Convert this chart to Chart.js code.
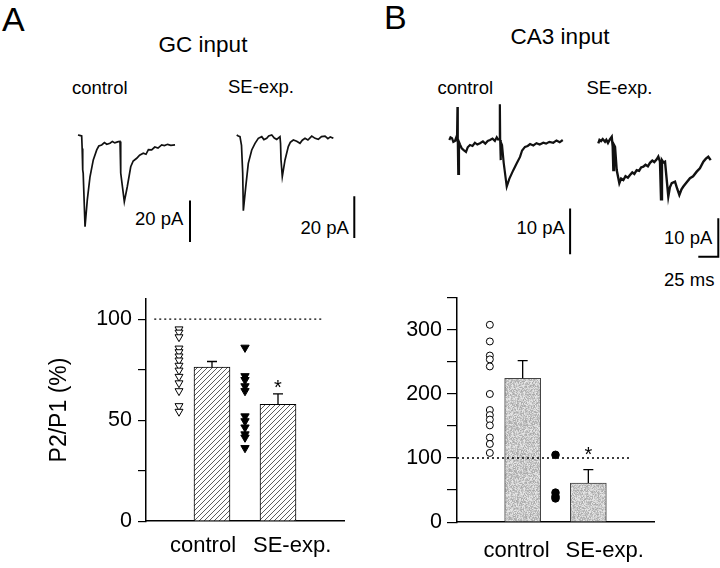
<!DOCTYPE html>
<html>
<head>
<meta charset="utf-8">
<script src="https://cdn.jsdelivr.net/npm/chart.js@4.4.0/dist/chart.umd.min.js"></script>
<style>
body { margin: 0; background: #fff; }
#fig { position: relative; width: 720px; height: 568px; overflow: hidden;
       font-family: "Liberation Sans", Arial, sans-serif; color: #000; }
.box { position: absolute; }
.t { position: absolute; white-space: nowrap; line-height: 1; }
.big { font-size: 34px; }
.head { font-size: 22.5px; text-align: center; width: 200px; }
.sm { font-size: 18.5px; }
.grp { font-size: 22px; }
</style>
</head>
<body>
<div id="fig">

  <div class="t big" style="left:2px;top:2px">A</div>
  <div class="t big" style="left:384px;top:0px">B</div>
  <div class="t head" style="left:103px;top:34px">GC input</div>
  <div class="t head" style="left:460px;top:26px">CA3 input</div>

  <div class="t sm" style="left:72px;top:78.6px">control</div>
  <div class="t sm" style="left:228px;top:78.3px">SE-exp.</div>
  <div class="t sm" style="left:437.5px;top:78.6px">control</div>
  <div class="t sm" style="left:586.5px;top:79.3px">SE-exp.</div>

  <div class="t sm" style="left:135px;top:210px">20 pA</div>
  <div class="t sm" style="left:300.5px;top:219.3px">20 pA</div>
  <div class="t sm" style="left:516.5px;top:219.3px">10 pA</div>
  <div class="t sm" style="left:664px;top:229.3px">10 pA</div>
  <div class="t sm" style="left:664px;top:271px">25 ms</div>

  <div class="box" style="left:70px;top:118px;width:130px;height:130px"><canvas id="gcCtrl"></canvas></div>
  <div class="box" style="left:226px;top:118px;width:134px;height:130px"><canvas id="gcSe"></canvas></div>
  <div class="box" style="left:440px;top:95px;width:140px;height:170px"><canvas id="caCtrl"></canvas></div>
  <div class="box" style="left:590px;top:115px;width:130px;height:150px"><canvas id="caSe"></canvas></div>

  <div class="box" style="left:0px;top:280px;width:360px;height:260px"><canvas id="gcBars"></canvas></div>
  <div class="box" style="left:380px;top:280px;width:340px;height:260px"><canvas id="caBars"></canvas></div>

  <div class="t grp" style="left:170px;top:533.9px" id="gcLab0"></div>
  <div class="t grp" style="left:253px;top:533.9px" id="gcLab1"></div>
  <div class="t grp" style="left:483.5px;top:538.9px" id="caLab0"></div>
  <div class="t grp" style="left:565.5px;top:538.9px" id="caLab1"></div>

</div>

<script>

// ---- example traces (time in ms, current in pA, baseline = 0) ----

const gcCtrlT = [0, 2, 4.6, 5.2, 5.9, 6.5, 8.8, 11.6, 15, 19.1, 23.4, 26, 29.6, 33, 36, 40, 43, 46, 50.4, 52.5,
                 53.2, 53.6, 57.9, 61.6, 65.9, 69, 73.4, 77, 81.6, 85, 88, 92.1, 96, 100, 104.6, 108, 112, 116, 121.3];
const gcCtrlI = [0.5, 0.3, 0, -6, -16.3, -18, -43.6, -30.8, -19.6, -11.5, -6.7, -4.8, -4.3, -3.2, -4, -3.5, -2.6, -3.3, -2.7, -2.6,
                 -13, -17.8, -31.6, -24.4, -14.8, -12, -10.7, -9.2, -8.3, -8.8, -6.6, -6.7, -5.3, -5.8, -4.3, -4.6, -4, -4.5, -4.3];

const gcSeT = [0, 2, 4.1, 6, 7.5, 8.3, 11.3, 14.5, 18.8, 22.9, 27, 31.3, 34, 37.5, 40, 43.8, 47, 50, 54.1, 54.8,
               55.4, 57, 60.4, 64.5, 67, 70.8, 75, 79.1, 82, 85.4, 89, 93.8, 98, 102, 106, 110.4, 114, 117, 120.8];
const gcSeI = [0, -0.5, -0.8, -5, -18.3, -36.4, -24.9, -13.6, -7.2, -4, -1.6, -0.8, -2.2, -1.6, -0.5, 0, -1.5, -2.1, -0.8, -4,
               -12, -20, -12, -5.6, -3.5, -2.4, -3, -4, -2.5, -1.6, -2.4, -0.5, -1.6, -2.1, -0.8, -0.5, -1.8, -0.9, -1.6];

const caCtrlT = [0, 1.5, 3.4, 5, 7.1, 8.5, 9.6, 10.2, 10.6, 11.2, 12.1, 13.5, 15.5, 18, 20.9, 23, 25.9, 29, 32, 35,
                 38.4, 42, 45, 48, 50.9, 54, 57, 59.3, 61, 62.7, 63.2, 63.6, 64, 64.6, 65.9, 68, 71.8, 75, 80, 84,
                 88.4, 91, 94.6, 98, 101, 105, 109, 113, 117.5, 121, 125, 130, 134, 138, 141.8];
const caCtrlI = [0, 0.6, 0.4, -0.4, -0.2, 0.5, 0, 7.2, 0, -7.4, -0.4, -1, -1.8, -2.2, -2.6, -1.6, -1.1, -1.3, -0.6, -1.0,
                 -0.7, -0.3, -0.8, -0.2, 0, 0.3, -0.2, 0.6, 0.1, 0.2, 7.8, 0, -4.4, -0.4, -1.1, -5, -10.2, -8.5, -6.6, -5.2,
                 -3.7, -2.3, -1.5, -1.3, -0.9, -1.2, -0.7, -1.0, -0.6, -0.8, -0.4, -0.6, -0.1, -0.5, 0];

const caSeT = [0, 1.5, 3.4, 5.5, 8.4, 10, 12.1, 14.5, 16.8, 18, 18.8, 19.6, 20.9, 23, 26.3, 28.5, 31.3, 34, 37, 39.6,
               42.5, 45, 48, 51, 53.5, 56.3, 59, 62, 64.6, 67.5, 70, 73, 75, 77.1, 78.4, 79.6, 81.5, 83.4, 87.5, 89.5,
               91.8, 95.9, 98.5, 101.3, 104, 106.3, 110, 114.6, 118.5, 123, 127, 131.3, 134.5, 137.5, 140.5];
const caSeI = [0, 0.9, 0.6, 1.1, 0.4, 0.9, 0.1, 1.0, 1.7, -0.9, -7, -0.4, -0.9, -7, -10.4, -9.2, -9.6, -8.6, -9.0, -8.3,
               -7.6, -8.0, -7.0, -7.2, -6.3, -6.1, -5.6, -6.0, -5.1, -4.5, -4.9, -4.2, -3.5, -4.8, -14.6, -4.4, -5.0, -4.8, -13.9, -11.5,
               -10.4, -10, -11.8, -13.5, -12.0, -11.3, -10.3, -9.1, -8.6, -7.4, -6.5, -4.8, -4.0, -3.5, -4.4];

// ---- paired-pulse ratio P2/P1 (%) ----

const groups = ['control', 'SE-exp.'];

const gcMeans = [76.2, 57.8];
const gcSem = [2.8, 5.2];
const gcCtrlPts = [95.0, 93.4, 91.1, 85.5, 83.7, 81.6, 79.6, 77.0, 74.6, 71.5, 68.3, 64.4, 57.0, 54.2];
const gcSePts = [85.9, 71.8, 69.9, 66.8, 64.4, 51.9, 49.5, 46.4, 43.0, 41.4, 36.2];

const caMeans = [224.5, 61];
const caSem = [27.5, 21];
const caCtrlPts = [308, 282, 260, 254, 243, 200, 175, 167, 160, 151, 132, 122, 108];
const caSePts = [105, 46, 40, 37];

const gcTicks = [0, 50, 100];
const caTicks = [0, 100, 200, 300];

Chart.defaults.font.family = '"Liberation Sans", Arial, sans-serif';
Chart.defaults.color = '#000';

function traceChart(id, t, cur, bar, view) {

    const box = document.getElementById(id).parentNode;
    const w = box.clientWidth;
    const h = box.clientHeight;

    const pts = t.map((v, k) => ({ x: v, y: cur[k] }));

    return new Chart(document.getElementById(id), {
        type: 'line',
        data: {
            datasets: [
                { data: pts, borderColor: '#111', borderWidth: view.lw, pointRadius: 0, tension: 0, clip: false },
                { data: bar, borderColor: '#000', borderWidth: 2, pointRadius: 0, tension: 0, clip: false }
            ]
        },
        options: {
            responsive: true,
            maintainAspectRatio: false,
            animation: false,
            events: [],
            layout: { padding: 0 },
            plugins: { legend: { display: false }, tooltip: { enabled: false } },
            scales: {
                x: { type: 'linear', display: false,
                     min: -view.ox * view.msPerPx, max: (w - view.ox) * view.msPerPx },
                y: { type: 'linear', display: false,
                     min: -(h - view.oy) / view.pxPerPA, max: view.oy / view.pxPerPA }
            }
        }
    });
}

traceChart('gcCtrl', gcCtrlT, gcCtrlI,
    [{ x: 140, y: -31 }, { x: 140, y: -51 }],
    { ox: 8, oy: 18, msPerPx: 1.25, pxPerPA: 2.08, lw: 1.7 });

traceChart('gcSe', gcSeT, gcSeI,
    [{ x: 147, y: -29.5 }, { x: 147, y: -49.5 }],
    { ox: 10.7, oy: 17, msPerPx: 1.25, pxPerPA: 2.08, lw: 1.7 });

traceChart('caCtrl', caCtrlT, caCtrlI,
    [{ x: 151, y: -15 }, { x: 151, y: -25 }],
    { ox: 9.3, oy: 45, msPerPx: 1.25, pxPerPA: 4.57, lw: 2.2 });

traceChart('caSe', caSeT, caSeI,
    [{ x: 125, y: -29.6 }, { x: 150, y: -29.6 }, { x: 150, y: -19.6 }],
    { ox: 8.3, oy: 28.3, msPerPx: 1.25, pxPerPA: 3.83, lw: 2.4 });

// ---- fills ----

function hatchFill() {
    const c = document.createElement('canvas');
    c.width = c.height = 5;
    const g = c.getContext('2d');
    g.fillStyle = '#fff';
    g.fillRect(0, 0, 5, 5);
    g.strokeStyle = '#333';
    g.lineWidth = 0.8;
    g.beginPath();
    g.moveTo(0, 5); g.lineTo(5, 0);
    g.moveTo(-1, 1); g.lineTo(1, -1);
    g.moveTo(4, 6); g.lineTo(6, 4);
    g.stroke();
    return g.createPattern(c, 'repeat');
}

function stippleFill() {
    const c = document.createElement('canvas');
    c.width = c.height = 48;
    const g = c.getContext('2d');
    const img = g.createImageData(48, 48);
    let s = 7;
    for (let i = 0; i < img.data.length; i += 4) {
        s = (s * 1103515245 + 12345) & 0x7fffffff;
        const v = 168 + ((s >> 16) % 66);
        img.data[i] = img.data[i + 1] = img.data[i + 2] = v;
        img.data[i + 3] = 255;
    }
    g.putImageData(img, 0, 0);
    return g.createPattern(c, 'repeat');
}

// error bars (upper only) and the significance star
const errorBars = {
    id: 'errorBars',
    afterDatasetsDraw(chart, args, opts) {
        const ctx = chart.ctx;
        const y = chart.scales.y;
        const x = chart.scales.x;
        chart.data.datasets.forEach((ds, i) => {
            if (!ds.errors) return;
            chart.getDatasetMeta(i).data.forEach((bar, j) => {
                const top = y.getPixelForValue(ds.data[j].y + ds.errors[j]);
                ctx.save();
                ctx.strokeStyle = '#000';
                ctx.lineWidth = 1.3;
                ctx.beginPath();
                ctx.moveTo(bar.x, bar.y);
                ctx.lineTo(bar.x, top);
                ctx.moveTo(bar.x - 5, top);
                ctx.lineTo(bar.x + 5, top);
                ctx.stroke();
                ctx.restore();
            });
        });
        if (opts.star) {
            ctx.save();
            ctx.font = '20px "Liberation Sans", Arial, sans-serif';
            ctx.textAlign = 'center';
            ctx.textBaseline = 'middle';
            ctx.fillStyle = '#000';
            ctx.fillText('*', x.getPixelForValue(opts.star.x), y.getPixelForValue(opts.star.y) + 4);
            ctx.restore();
        }
    }
};

function barChart(id, cfg) {

    const ptsCtrl = cfg.ctrlPts.map(v => ({ x: 1, y: v }));
    const ptsSe = cfg.sePts.map(v => ({ x: 3, y: v }));

    return new Chart(document.getElementById(id), {
        type: 'bar',
        data: {
            datasets: [
                {
                    type: 'line',
                    data: [{ x: cfg.ref[0], y: 100 }, { x: cfg.ref[1], y: 100 }],
                    borderColor: '#000', borderWidth: 1.4, borderDash: [2, 3],
                    pointRadius: 0, order: 0
                },
                {
                    type: 'line', showLine: false,
                    data: ptsCtrl,
                    pointStyle: cfg.marker, rotation: cfg.rot, radius: cfg.rOpen,
                    pointBackgroundColor: '#fff', pointBorderColor: '#000', pointBorderWidth: 1,
                    order: 1
                },
                {
                    type: 'line', showLine: false,
                    data: ptsSe,
                    pointStyle: cfg.marker, rotation: cfg.rot, radius: cfg.rFill,
                    pointBackgroundColor: '#000', pointBorderColor: '#000', pointBorderWidth: 1,
                    order: 1
                },
                {
                    data: [{ x: 2, y: cfg.means[0] }, { x: 4, y: cfg.means[1] }],
                    errors: cfg.sem,
                    backgroundColor: cfg.fill,
                    borderColor: cfg.edge, borderWidth: 1,
                    barThickness: 36,
                    order: 2
                }
            ]
        },
        options: {
            responsive: true,
            maintainAspectRatio: false,
            animation: false,
            events: [],
            layout: { padding: cfg.pad },
            plugins: {
                legend: { display: false },
                tooltip: { enabled: false },
                errorBars: { star: { x: 4, y: cfg.star } }
            },
            scales: {
                x: {
                    type: 'linear', min: 0, max: 6, offset: false,
                    ticks: { display: false },
                    grid: { display: false, offset: false },
                    border: { display: true, color: '#000', width: 1.5 },
                    afterFit: s => { s.height = cfg.xh; }
                },
                y: {
                    min: 0, max: cfg.max,
                    ticks: {
                        stepSize: cfg.step, autoSkip: false, includeBounds: false,
                        padding: cfg.tickPad,
                        font: { size: 21.5 },
                        callback: v => cfg.labels.includes(v) ? String(v) : ''
                    },
                    grid: { drawOnChartArea: false, drawTicks: true, tickLength: cfg.tickLen,
                            color: '#000', lineWidth: 1.2 },
                    border: { display: true, color: '#000', width: 1.5 },
                    title: cfg.title ? {
                        display: true, text: cfg.title, font: { size: 23 },
                        padding: { top: 46, bottom: 0 }
                    } : { display: false },
                    afterFit: s => { s.width = cfg.yw; }
                }
            }
        },
        plugins: [errorBars]
    });
}

barChart('gcBars', {
    means: gcMeans, sem: gcSem, ctrlPts: gcCtrlPts, sePts: gcSePts,
    marker: 'triangle', rot: 180, rOpen: 4.6, rFill: 4.8,
    fill: hatchFill(), edge: '#000',
    ref: [0.25, 5.35], star: 67.7,
    max: 110, step: 25, labels: gcTicks, tickPad: 6, tickLen: 8,
    title: 'P2/P1 (%)',
    pad: { top: 8, right: 16, bottom: 0, left: 0 }, yw: 146, xh: 18
});

barChart('caBars', {
    means: caMeans, sem: caSem, ctrlPts: caCtrlPts, sePts: caSePts,
    marker: 'circle', rot: 0, rOpen: 3.5, rFill: 3.8,
    fill: stippleFill(), edge: '#444',
    ref: [0, 5.32], star: 109.6,
    max: 350, step: 50, labels: caTicks, tickPad: 5, tickLen: 10,
    title: null,
    pad: { top: 11, right: 66, bottom: 0, left: 0 }, yw: 77, xh: 15
});

['gcLab0', 'caLab0'].forEach(id => { document.getElementById(id).textContent = groups[0]; });
['gcLab1', 'caLab1'].forEach(id => { document.getElementById(id).textContent = groups[1]; });

</script>
</body>
</html>
